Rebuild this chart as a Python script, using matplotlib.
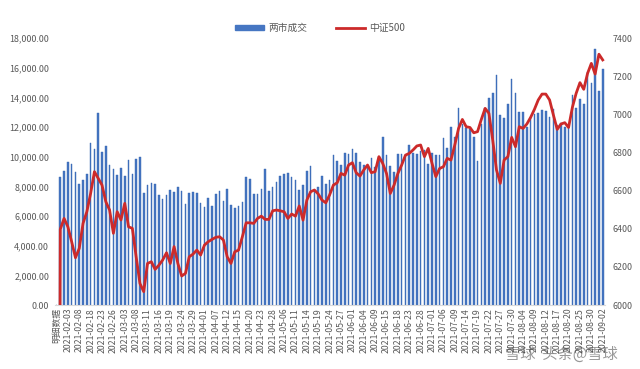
import matplotlib
matplotlib.use("Agg")
import matplotlib.pyplot as plt
from matplotlib.lines import Line2D
from matplotlib.patches import Patch
import matplotlib.ticker as mticker
import numpy as np

plt.rcParams['font.family'] = ['Noto Sans CJK SC', 'DejaVu Sans']

# ---------------- data ----------------
turnover = [0,
    8650, 9050, 9610, 9500, 8960, 8150, 8420, 8830, 10940, 10510,
    12950, 10290, 10710, 9440, 9140, 8780, 9230, 8720, 9770, 8830,
    9860, 9950, 7550, 8090, 8220, 8130, 7440, 7170, 7410, 7770,
    7640, 7970, 7680, 6810, 7550, 7610, 7525, 6900, 6580, 7210,
    6670, 7460, 7700, 6990, 7790, 6740, 6540, 6650, 6960, 8650,
    8510, 7500, 7460, 7840, 9140, 7660, 7930, 8290, 8720, 8830,
    8870, 8630, 8450, 7730, 8060, 9050, 9370, 7730, 7970, 8690,
    8130, 8450, 10110, 9730, 9460, 10220, 10150, 10540, 10220, 9640,
    9440, 9320, 9910, 9320, 10000, 11300, 10090, 9370, 8940, 10180,
    10180, 10130, 10780, 10220, 10180, 10400, 10450, 9500, 10220, 10090,
    10110, 11280, 10580, 12020, 11300, 13280, 12180, 11900, 11840, 11300,
    9700, 12180, 13260, 13930, 14310, 15500, 12780, 12580, 13550, 15250,
    14270, 13010, 13010, 12020, 12600, 12870, 12920, 13140, 13080, 12650,
    13190, 12130, 12290, 12020, 12020, 14150, 13260, 13860, 13550, 15730,
    14940, 17230, 14450, 15880]

csi500 = [0,
    6397, 6454, 6410, 6332, 6248, 6297, 6428, 6489, 6585, 6699,
    6664, 6629, 6542, 6498, 6376, 6489, 6446, 6533, 6410, 6402,
    6253, 6113, 6070, 6218, 6227, 6187, 6209, 6236, 6274, 6218,
    6306, 6218, 6152, 6166, 6253, 6267, 6288, 6262, 6314, 6332,
    6344, 6355, 6358, 6341, 6253, 6218, 6279, 6288, 6358, 6431,
    6431, 6428, 6454, 6466, 6449, 6449, 6494, 6498, 6494, 6489,
    6454, 6477, 6466, 6519, 6445, 6550, 6594, 6603, 6582, 6550,
    6536, 6577, 6629, 6641, 6690, 6681, 6734, 6746, 6694, 6676,
    6708, 6734, 6694, 6699, 6778, 6743, 6690, 6585, 6629, 6690,
    6734, 6786, 6795, 6813, 6834, 6839, 6778, 6821, 6743, 6673,
    6716, 6725, 6769, 6760, 6839, 6926, 6973, 6935, 6931, 6903,
    6909, 6973, 7031, 7005, 6865, 6708, 6638, 6760, 6778, 6879,
    6830, 6935, 6926, 6949, 6984, 7026, 7075, 7106, 7106, 7075,
    6996, 6921, 6949, 6956, 6931, 7036, 7110, 7166, 7131, 7214,
    7267, 7211, 7315, 7285]

tick_labels = ["明细数据",
    "2021-02-03", "2021-02-08", "2021-02-18", "2021-02-23", "2021-02-26",
    "2021-03-03", "2021-03-08", "2021-03-11", "2021-03-16", "2021-03-19",
    "2021-03-24", "2021-03-29", "2021-04-01", "2021-04-07", "2021-04-12",
    "2021-04-15", "2021-04-20", "2021-04-23", "2021-04-28", "2021-05-06",
    "2021-05-11", "2021-05-14", "2021-05-19", "2021-05-24", "2021-05-27",
    "2021-06-01", "2021-06-04", "2021-06-09", "2021-06-15", "2021-06-18",
    "2021-06-23", "2021-06-28", "2021-07-01", "2021-07-06", "2021-07-09",
    "2021-07-14", "2021-07-19", "2021-07-22", "2021-07-27", "2021-07-30",
    "2021-08-04", "2021-08-09", "2021-08-12", "2021-08-17", "2021-08-20",
    "2021-08-25", "2021-08-30", "2021-09-02"]

series_names = ["两市成交", "中证500"]

# ---------------- plot ----------------
bar_color = "#4676c2"
line_color = "#cc2a2a"
text_color = "#595959"

fig = plt.figure(figsize=(6.4, 3.69), dpi=100)
ax = fig.add_axes([0.0853, 0.1734, 0.8594, 0.7236])
x = np.arange(len(turnover))
ax.bar(x, turnover, width=0.42, color=bar_color, edgecolor="#3565b0", linewidth=0.3)
ax.set_xlim(-0.5, len(turnover) - 0.5)
ax.set_ylim(0, 18000)
ax.yaxis.set_major_locator(mticker.MultipleLocator(2000))
ax.yaxis.set_major_formatter(mticker.FuncFormatter(lambda v, p: f"{v:,.2f}"))

ax2 = ax.twinx()
ax2.plot(x, csi500, color=line_color, linewidth=2.0, solid_joinstyle="round")
ax2.set_ylim(6000, 7400)
ax2.yaxis.set_major_locator(mticker.MultipleLocator(200))

tick_pos = np.arange(0, len(turnover), 3)
ax.set_xticks(tick_pos)
ax.set_xticklabels(tick_labels, rotation=90, fontsize=6.3, color=text_color)

for a in (ax, ax2):
    for s in a.spines.values():
        s.set_visible(False)
    a.tick_params(length=0)
ax.spines['bottom'].set_visible(True)
ax.spines['bottom'].set_color("#d9d9d9")
ax.tick_params(axis='y', labelsize=6.4, labelcolor=text_color, pad=4)
ax.tick_params(axis='x', pad=2)
ax2.tick_params(axis='y', labelsize=6.4, labelcolor=text_color, pad=6)

handles = [Patch(facecolor=bar_color, edgecolor=bar_color),
           Line2D([0], [0], color=line_color, linewidth=2.0)]
fig.legend(handles, series_names, loc="center", bbox_to_anchor=(0.5, 0.924),
           ncol=2, frameon=False, fontsize=7, labelcolor=text_color,
           handlelength=3.0, handleheight=0.5, columnspacing=3.0, handletextpad=0.4)

fig.text(0.965, 0.04, "雪球  头条@雪球", ha="right", va="center", fontsize=11,
         color="#444444", alpha=0.55)

fig.savefig("out.png", dpi=100, facecolor="white")
